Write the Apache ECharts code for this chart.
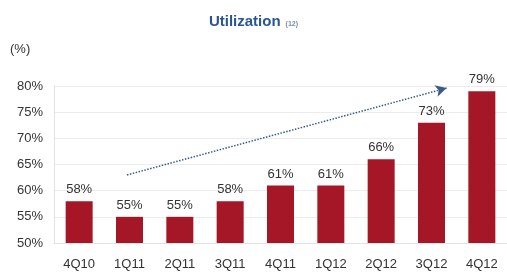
<!DOCTYPE html>
<html>
<head>
<meta charset="utf-8">
<script src="https://cdn.jsdelivr.net/npm/echarts@6/dist/echarts.min.js"></script>
<style>
  html, body { margin: 0; padding: 0; background: #fff; }
  #chart { width: 507px; height: 276px; }
</style>
</head>
<body>
<div id="chart"></div>
<script>
// data
const quarters = ['4Q10', '1Q11', '2Q11', '3Q11', '4Q11', '1Q12', '2Q12', '3Q12', '4Q12']
const utilization = [58, 55, 55, 58, 61, 61, 66, 73, 79]
const yTicks = [50, 55, 60, 65, 70, 75, 80]
// trend arrow, in category-index / percent units
const trendStart = [0.95, 63]
const trendEnd = [7.3, 79.6]

const chart = echarts.init(document.getElementById('chart'))
const font = '"Liberation Sans", Arial, sans-serif'

chart.setOption({
  animation: false,
  textStyle: { fontFamily: font },
  title: {
    text: '{t|Utilization} {s|(12)}',
    left: 'center',
    top: 8,
    textStyle: {
      rich: {
        t: { fontSize: 15, fontWeight: 'bold', color: '#2a5590', fontFamily: font },
        s: { fontSize: 7, color: '#7a8aa8', fontFamily: font, padding: [4, 0, 0, 0] }
      }
    }
  },
  graphic: [{
    type: 'text', left: 10, top: 43,
    style: { text: '(%)', fontSize: 13, fill: '#333', fontFamily: font }
  }],
  grid: { left: 54, right: -10, top: 86, bottom: 33 },
  xAxis: [{
    type: 'category',
    data: quarters,
    axisLine: { lineStyle: { color: '#e2e2e2' } },
    axisTick: { show: false },
    axisLabel: { color: '#333', fontSize: 13, margin: 15 }
  }, {
    type: 'value',
    min: -0.5, max: 8.5,
    show: false
  }],
  yAxis: {
    type: 'value',
    min: yTicks[0],
    max: yTicks[yTicks.length - 1],
    interval: 5,
    axisLine: { show: true, onZero: false, lineStyle: { color: '#e2e2e2' } },
    axisTick: { show: false },
    splitLine: { lineStyle: { color: '#ececec' } },
    axisLabel: { color: '#333', fontSize: 13, margin: 11, formatter: '{value}%' }
  },
  series: [{
    type: 'bar',
    data: utilization,
    barWidth: 27,
    itemStyle: { color: '#a51726' },
    label: { show: true, position: 'top', distance: 5, color: '#333', fontSize: 13, formatter: '{c}%' }
  }, {
    type: 'line',
    xAxisIndex: 1,
    data: [trendStart, trendEnd],
    symbol: 'none',
    lineStyle: { opacity: 0 },
    silent: true,
    markLine: {
      silent: true,
      symbol: ['none', 'arrow'],
      symbolSize: [9, 11],
      label: { show: false },
      lineStyle: { type: [1.5, 1.5], color: '#3c5a86', width: 1.5 },
      data: [[{ coord: trendStart }, { coord: trendEnd }]]
    }
  }]
})
</script>
</body>
</html>
